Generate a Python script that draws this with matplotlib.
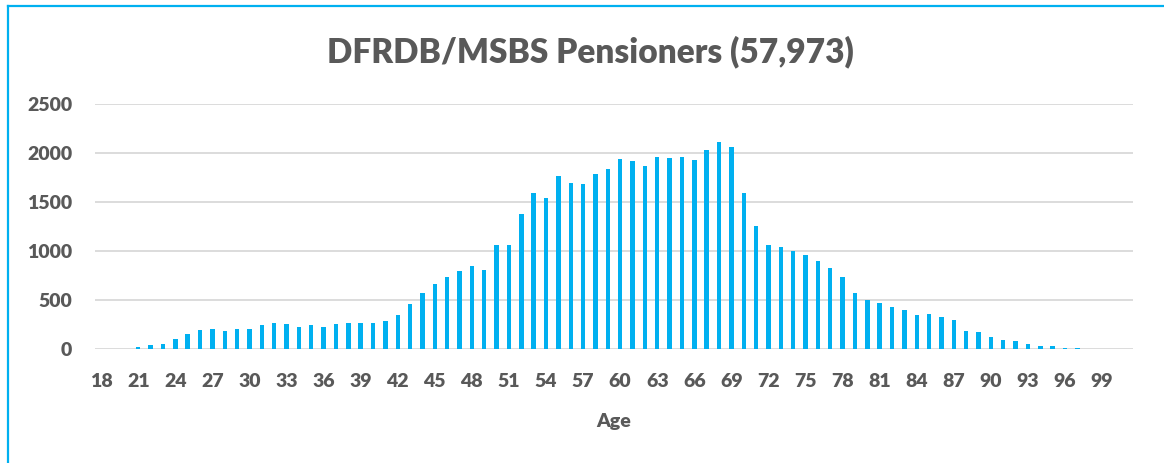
import matplotlib
matplotlib.use("Agg")
import matplotlib.pyplot as plt
from matplotlib.lines import Line2D

ages = list(range(18, 102))
pensioners = [
    0, 4, 0, 18, 38, 52, 100, 155, 197, 204, 186, 207, 204,          # 18-30
    245, 262, 259, 228, 248, 228, 259, 269, 266, 269,                # 31-40
    288, 345, 462, 571, 663, 739, 797, 845, 811, 1057,               # 41-50
    1064, 1375, 1594, 1544, 1767, 1698, 1681, 1784, 1833, 1940,      # 51-60
    1921, 1865, 1962, 1945, 1956, 1928, 2031, 2116, 2058, 1594,      # 61-70
    1256, 1058, 1039, 1001, 961, 893, 828, 732, 575, 503,            # 71-80
    465, 428, 397, 352, 356, 325, 294, 185, 178, 120,                # 81-90
    96, 86, 55, 31, 27, 10, 7, 3, 1, 0, 0,                           # 91-101
]
tick_ages = list(range(18, 100, 3))
y_ticks = [0, 500, 1000, 1500, 2000, 2500]
title = "DFRDB/MSBS Pensioners (57,973)"
x_label = "Age"

BAR = "#00B0F0"
TXT = "#595959"
GRID = "#D9D9D9"
FONT = ["Lato", "DejaVu Sans"]
WEIGHT = "heavy"

W, H = 1164, 463
fig = plt.figure(figsize=(W / 100, H / 100), dpi=100)
ax = fig.add_axes([95 / W, 1 - 349 / H, (1133 - 95) / W, (349 - 104) / H])

pos = list(range(len(ages)))
ax.bar(pos, pensioners, width=0.36, color=BAR, zorder=3)
ax.set_xlim(-0.5, len(ages) - 0.5)
ax.set_ylim(0, 2500)

ax.set_yticks(y_ticks)
ax.set_yticklabels([str(v) for v in y_ticks], fontsize=14, fontweight=WEIGHT,
                   color=TXT, family=FONT)
ax.set_xticks([ages.index(a) for a in tick_ages])
ax.set_xticklabels([str(a) for a in tick_ages], fontsize=14, fontweight=WEIGHT,
                   color=TXT, family=FONT)
ax.tick_params(axis="both", length=0)
ax.tick_params(axis="y", pad=16.5)
ax.tick_params(axis="x", pad=17)

ax.grid(axis="y", color=GRID, linewidth=1.3, zorder=0)
for s in ax.spines.values():
    s.set_visible(False)

ax.set_xlabel(x_label, fontsize=14, fontweight=WEIGHT, color=TXT, family=FONT,
              labelpad=17)
fig.text(590 / W, 1 - 52 / H, title, ha="center", va="center", fontsize=24,
         fontweight=WEIGHT, color=TXT, family=FONT)

# chart border (left and top edges visible)
fig.add_artist(Line2D([7.5 / W, 7.5 / W], [0, 1 - 6 / H], transform=fig.transFigure,
                      color=BAR, linewidth=1.6))
fig.add_artist(Line2D([7.5 / W, 1], [1 - 6 / H, 1 - 6 / H], transform=fig.transFigure,
                      color=BAR, linewidth=1.6))

fig.savefig("out.png", dpi=100, facecolor="white")
